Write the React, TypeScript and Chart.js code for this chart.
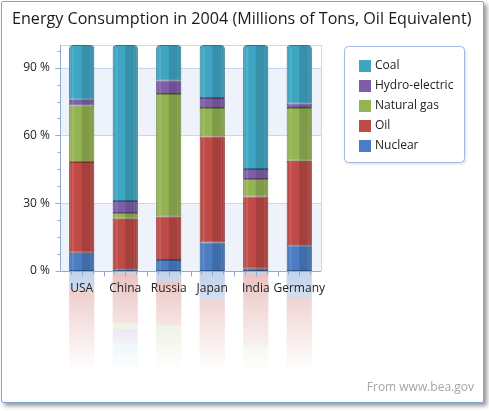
import React, { useEffect, useRef } from 'react';
import { Chart, registerables } from 'chart.js';

Chart.register(...registerables);

const categories = ['USA', 'China', 'Russia', 'Japan', 'India', 'Germany'];
// Millions of tons, oil equivalent (2004)
const nuclear = [187.9, 11.3, 32.4, 64.8, 3.8, 37.8];
const oil = [937.6, 308.6, 128.5, 241.5, 119.3, 123.6];
const naturalGas = [582.0, 35.1, 361.8, 64.8, 28.9, 77.3];
const hydroElectric = [59.8, 74.2, 40.0, 22.6, 16.6, 6.5];
const coal = [564.3, 956.9, 105.0, 120.8, 204.8, 85.7];
const yTicks = [0, 30, 60, 90];

const FONT = '"Segoe UI", "Open Sans", "Noto Sans", sans-serif';
const TITLE = 'Energy Consumption in 2004 (Millions of Tons, Oil Equivalent)';

const totals = categories.map(
  (_, i) => nuclear[i] + oil[i] + naturalGas[i] + hydroElectric[i] + coal[i]
);
const pct = (arr: number[]) => arr.map((v, i) => (v / totals[i]) * 100);

function hexToRgba(hex: string, a: number) {
  const h = hex.replace('#', '');
  const r = parseInt(h.slice(0, 2), 16);
  const g = parseInt(h.slice(2, 4), 16);
  const b = parseInt(h.slice(4, 6), 16);
  return `rgba(${r},${g},${b},${a})`;
}

const decorPlugin = {
  id: 'decor',
  beforeDraw(chart: any) {
    const { ctx, chartArea, scales } = chart;
    const y = scales.y;
    ctx.save();
    // bands
    ctx.fillStyle = '#EEF3FB';
    const bands = [[0, 30], [60, 90]];
    bands.forEach(([a, b]) => {
      const t = y.getPixelForValue(b);
      const bt = y.getPixelForValue(a);
      ctx.fillRect(chartArea.left, t, chartArea.right - chartArea.left, bt - t);
    });
    // reflections
    const y0 = y.getPixelForValue(0);
    const depth = 100;
    ctx.beginPath();
    ctx.rect(0, y0 + 1, chart.width, depth);
    ctx.clip();
    chart.data.datasets.forEach((ds: any, di: number) => {
      const meta = chart.getDatasetMeta(di);
      meta.data.forEach((el: any) => {
        const p = el.getProps(['x', 'y', 'base', 'width'], true);
        const top = Math.min(p.y, p.base);
        const bottom = Math.max(p.y, p.base);
        const mTop = y0 + (y0 - bottom);
        const mBottom = y0 + (y0 - top);
        const g = ctx.createLinearGradient(0, y0, 0, y0 + depth);
        g.addColorStop(0, hexToRgba(ds.backgroundColor, 0.34));
        g.addColorStop(0.45, hexToRgba(ds.backgroundColor, 0.18));
        g.addColorStop(1, hexToRgba(ds.backgroundColor, 0));
        ctx.fillStyle = g;
        ctx.fillRect(p.x - p.width / 2, mTop, p.width, mBottom - mTop);
      });
    });
    ctx.restore();
  },
  beforeDatasetsDraw(chart: any) {
    const { ctx, chartArea, scales } = chart;
    const y = scales.y;
    const x = scales.x;
    ctx.save();
    ctx.lineWidth = 1;
    // grid lines
    ctx.strokeStyle = '#C8D8EF';
    [30, 60, 90].forEach((v) => {
      const py = Math.round(y.getPixelForValue(v)) + 0.5;
      ctx.beginPath();
      ctx.moveTo(chartArea.left - 5, py);
      ctx.lineTo(chartArea.right, py);
      ctx.stroke();
    });
    // plot frame top & right
    ctx.strokeStyle = '#C8D8EF';
    ctx.beginPath();
    ctx.moveTo(chartArea.left, Math.round(chartArea.top) + 0.5);
    ctx.lineTo(Math.round(chartArea.right) + 0.5, Math.round(chartArea.top) + 0.5);
    ctx.lineTo(Math.round(chartArea.right) + 0.5, chartArea.bottom);
    ctx.stroke();
    // axes
    ctx.strokeStyle = '#8EABD6';
    const ax = Math.round(chartArea.left) + 0.5;
    const ay = Math.round(y.getPixelForValue(0)) + 0.5;
    ctx.beginPath();
    ctx.moveTo(ax, chartArea.top);
    ctx.lineTo(ax, ay);
    ctx.lineTo(chartArea.right, ay);
    ctx.stroke();
    // y ticks
    for (let v = 0; v <= 100; v += 7.5) {
      const py = Math.round(y.getPixelForValue(v)) + 0.5;
      const major = v % 30 === 0;
      ctx.beginPath();
      ctx.moveTo(ax - (major ? 5 : 3), py);
      ctx.lineTo(ax, py);
      ctx.stroke();
    }
    // x ticks
    const step = (x.getPixelForValue(1) - x.getPixelForValue(0)) / 4;
    let i = 0;
    for (let px = chartArea.left + step; px < chartArea.right - 1; px += step, i++) {
      const xx = Math.round(px) + 0.5;
      ctx.beginPath();
      ctx.moveTo(xx, ay);
      ctx.lineTo(xx, ay + ((i + 1) % 2 === 0 ? 5 : 3));
      ctx.stroke();
    }
    ctx.restore();
  },
  afterDatasetsDraw(chart: any) {
    const { ctx } = chart;
    ctx.save();
    const last = chart.data.datasets.length - 1;
    chart.data.datasets.forEach((ds: any, di: number) => {
      const meta = chart.getDatasetMeta(di);
      meta.data.forEach((el: any) => {
        const p = el.getProps(['x', 'y', 'base', 'width'], true);
        const top = Math.min(p.y, p.base);
        const h = Math.abs(p.base - p.y);
        const l = p.x - p.width / 2;
        const off = di === last ? 3 : 0;
        // darker right half
        ctx.fillStyle = 'rgba(0,0,0,0.13)';
        ctx.beginPath();
        if (di === last) {
          ctx.roundRect(p.x, top + 1, p.width / 2 - 1, h - 1, [0, 3, 0, 0]);
        } else {
          ctx.rect(p.x, top, p.width / 2 - 1, h);
        }
        ctx.fill();
        // subtle highlight lines
        ctx.fillStyle = 'rgba(255,255,255,0.12)';
        ctx.fillRect(l + 3, top + off, 2, h - off);
        ctx.fillRect(l + p.width - 4, top + off, 1, h - off);
      });
    });
    ctx.restore();
  },
  afterDraw(chart: any) {
    const { ctx } = chart;
    ctx.save();
    // title, sized to span the same width as the reference
    let size = 18;
    ctx.font = `${size}px ${FONT}`;
    const w = ctx.measureText(TITLE).width;
    size = Math.min(18, (size * 460) / w);
    ctx.font = `${size}px ${FONT}`;
    ctx.fillStyle = '#1a1a1a';
    ctx.textAlign = 'left';
    ctx.textBaseline = 'middle';
    ctx.fillText(TITLE, 12, 19);
    // legend box
    ctx.strokeStyle = '#9DBBE3';
    ctx.lineWidth = 1;
    ctx.fillStyle = '#ffffff';
    ctx.shadowColor = 'rgba(0,0,0,0.18)';
    ctx.shadowBlur = 3;
    ctx.shadowOffsetX = 1;
    ctx.shadowOffsetY = 1;
    ctx.beginPath();
    ctx.roundRect(344.5, 46.5, 120, 116, 4);
    ctx.fill();
    ctx.shadowColor = 'transparent';
    ctx.stroke();
    const ds = chart.data.datasets.slice().reverse();
    ctx.font = `12px ${FONT}`;
    ctx.textBaseline = 'middle';
    ds.forEach((d: any, i: number) => {
      const cy = 66 + i * 20;
      ctx.fillStyle = d.backgroundColor;
      ctx.fillRect(359, cy - 6, 12, 12);
      ctx.fillStyle = '#222';
      ctx.fillText(d.label, 375, cy);
    });
    // footer
    ctx.fillStyle = '#A6A6A6';
    ctx.font = `12px ${FONT}`;
    ctx.textAlign = 'right';
    ctx.fillText('From www.bea.gov', 474, 388);
    ctx.restore();
  },
};

export default function App() {
  const ref = useRef<HTMLCanvasElement | null>(null);
  useEffect(() => {
    if (!ref.current) return;
    const mk = (label: string, data: number[], color: string, border: string, top = false) => ({
      label,
      data: pct(data),
      backgroundColor: color,
      borderColor: border,
      borderWidth: 1,
      borderSkipped: false,
      borderRadius: top ? { topLeft: 4, topRight: 4, bottomLeft: 0, bottomRight: 0 } : 0,
      barPercentage: 0.58,
      categoryPercentage: 1,
    });
    const chart = new Chart(ref.current, {
      type: 'bar',
      data: {
        labels: categories,
        datasets: [
          mk('Nuclear', nuclear, '#4A7DC3', '#31588F'),
          mk('Oil', oil, '#BF4A46', '#8C302D'),
          mk('Natural gas', naturalGas, '#94B352', '#6C8838'),
          mk('Hydro-electric', hydroElectric, '#7E5EA8', '#5A3F7E'),
          mk('Coal', coal, '#3EA6C3', '#2A7489', true),
        ],
      },
      options: {
        responsive: false,
        animation: false,
        layout: { padding: { left: 8, right: 168, top: 45, bottom: 110 } },
        plugins: {
          legend: { display: false },
          title: { display: false },
          tooltip: { enabled: false },
        },
        scales: {
          x: {
            stacked: true,
            grid: { display: false, drawTicks: false },
            border: { display: false },
            ticks: {
              color: '#222',
              font: { family: FONT, size: 12 },
              padding: 10,
              maxRotation: 0,
              autoSkip: false,
            },
            afterFit: (s: any) => {
              s.height = 30;
            },
          },
          y: {
            stacked: true,
            min: 0,
            max: 100,
            grid: { display: false, drawTicks: false },
            border: { display: false },
            ticks: {
              stepSize: 30,
              color: '#222',
              font: { family: FONT, size: 12 },
              padding: 10,
              callback: (v: any) => `${v} %`,
            },
            afterBuildTicks: (s: any) => {
              s.ticks = yTicks.map((v) => ({ value: v }));
            },
            afterFit: (s: any) => {
              s.width = 52;
            },
          },
        },
      },
      plugins: [decorPlugin],
    } as any);
    return () => chart.destroy();
  }, []);

  return (
    <div style={{ position: 'fixed', left: 0, top: 0, width: 489, height: 411, background: '#fff' }}>
      <div
        style={{
          position: 'absolute',
          left: 1,
          top: 1,
          width: 481,
          height: 400,
          border: '1px solid #7FA6D8',
          boxShadow: '3px 3px 4px rgba(0,0,0,0.4)',
          borderRadius: 2,
          background: '#fff',
        }}
      />
      <canvas ref={ref} width={489} height={411} style={{ position: 'absolute', left: 0, top: 0 }} />
    </div>
  );
}
